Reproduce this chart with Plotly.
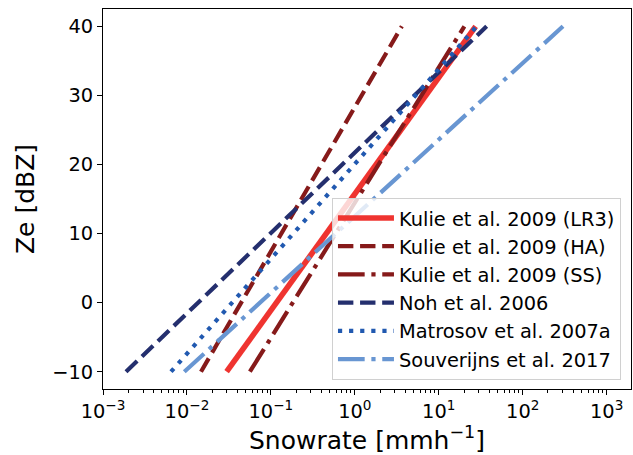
import plotly.graph_objects as go

# Ze range of each relation (dBZ)
ze_dbz = [-10, 40]

# Snowrate (mm/h) read at Ze = -10 dBZ and Ze = 40 dBZ
names = ["Kulie et al. 2009 (LR3)", "Kulie et al. 2009 (HA)", "Kulie et al. 2009 (SS)",
         "Noh et al. 2006", "Matrosov et al. 2007a", "Souverijns et al. 2017"]
s_lr3 = [0.0297, 27.5]
s_ha = [0.0147, 3.63]
s_ss = [0.0562, 20.2]
s_noh = [0.00188, 37.2]
s_mat = [0.00646, 28.3]
s_souv = [0.0093, 302.0]
series = [s_lr3, s_ha, s_ss, s_noh, s_mat, s_souv]

colors = ["#EF3430", "#861A1A", "#861A1A", "#242F6E", "#2159B0", "#6896D2"]
widths = [5.6, 4.2, 4.2, 4.2, 4.2, 4.2]
dashes = ["solid", "15.4px,6.7px", "26.7px,6.7px,4.2px,6.7px", "15.4px,6.7px",
          "4.2px,6.9px", "26.7px,6.7px,4.2px,6.7px"]

xtick_vals = [1e-3, 1e-2, 1e-1, 1e0, 1e1, 1e2, 1e3]
xtick_text = ["10<sup>\u22123</sup>", "10<sup>\u22122</sup>", "10<sup>\u22121</sup>",
              "10<sup>0</sup>", "10<sup>1</sup>", "10<sup>2</sup>", "10<sup>3</sup>"]
ytick_vals = [-10, 0, 10, 20, 30, 40]
ytick_text = ["\u221210", "0", "10", "20", "30", "40"]

fig = go.Figure()
for n, s, c, w, d in zip(names, series, colors, widths, dashes):
    fig.add_trace(go.Scatter(x=s, y=ze_dbz, mode="lines", name=n,
                             line=dict(color=c, width=w, dash=d)))

font = "DejaVu Sans"
fig.update_layout(
    width=633, height=455,
    margin=dict(l=103, r=2, t=9, b=66),
    plot_bgcolor="white", paper_bgcolor="white",
    font=dict(family=font, color="black", size=19.4),
    showlegend=True,
    legend=dict(x=0.981, y=0.024, xanchor="right", yanchor="bottom",
                bgcolor="rgba(255,255,255,0.8)", bordercolor="#d0d0d0", borderwidth=1,
                font=dict(family=font, size=19.4, color="black"),
                itemwidth=56, tracegroupgap=0),
)
fig.update_xaxes(
    type="log", range=[-3, 3.29],
    tickvals=xtick_vals, ticktext=xtick_text,
    ticks="outside", ticklen=5, tickwidth=1.1, tickcolor="black",
    minor=dict(ticks="outside", ticklen=3, tickwidth=0.8, tickcolor="black", dtick="D1", showgrid=False),
    showline=True, linecolor="black", linewidth=1.1, mirror=True,
    showgrid=False, zeroline=False,
    tickfont=dict(family=font, size=19.4),
    title=dict(text="Snowrate [mmh<sup>\u22121</sup>]", font=dict(family=font, size=25), standoff=3),
)
fig.update_yaxes(
    range=[-12.5, 42.5],
    tickvals=ytick_vals, ticktext=ytick_text,
    ticks="outside", ticklen=5, tickwidth=1.1, tickcolor="black",
    showline=True, linecolor="black", linewidth=1.1, mirror=True,
    showgrid=False, zeroline=False,
    tickfont=dict(family=font, size=19.4),
    title=dict(text="Ze [dBZ]", font=dict(family=font, size=25), standoff=10),
)
fig.write_html("out.html")
